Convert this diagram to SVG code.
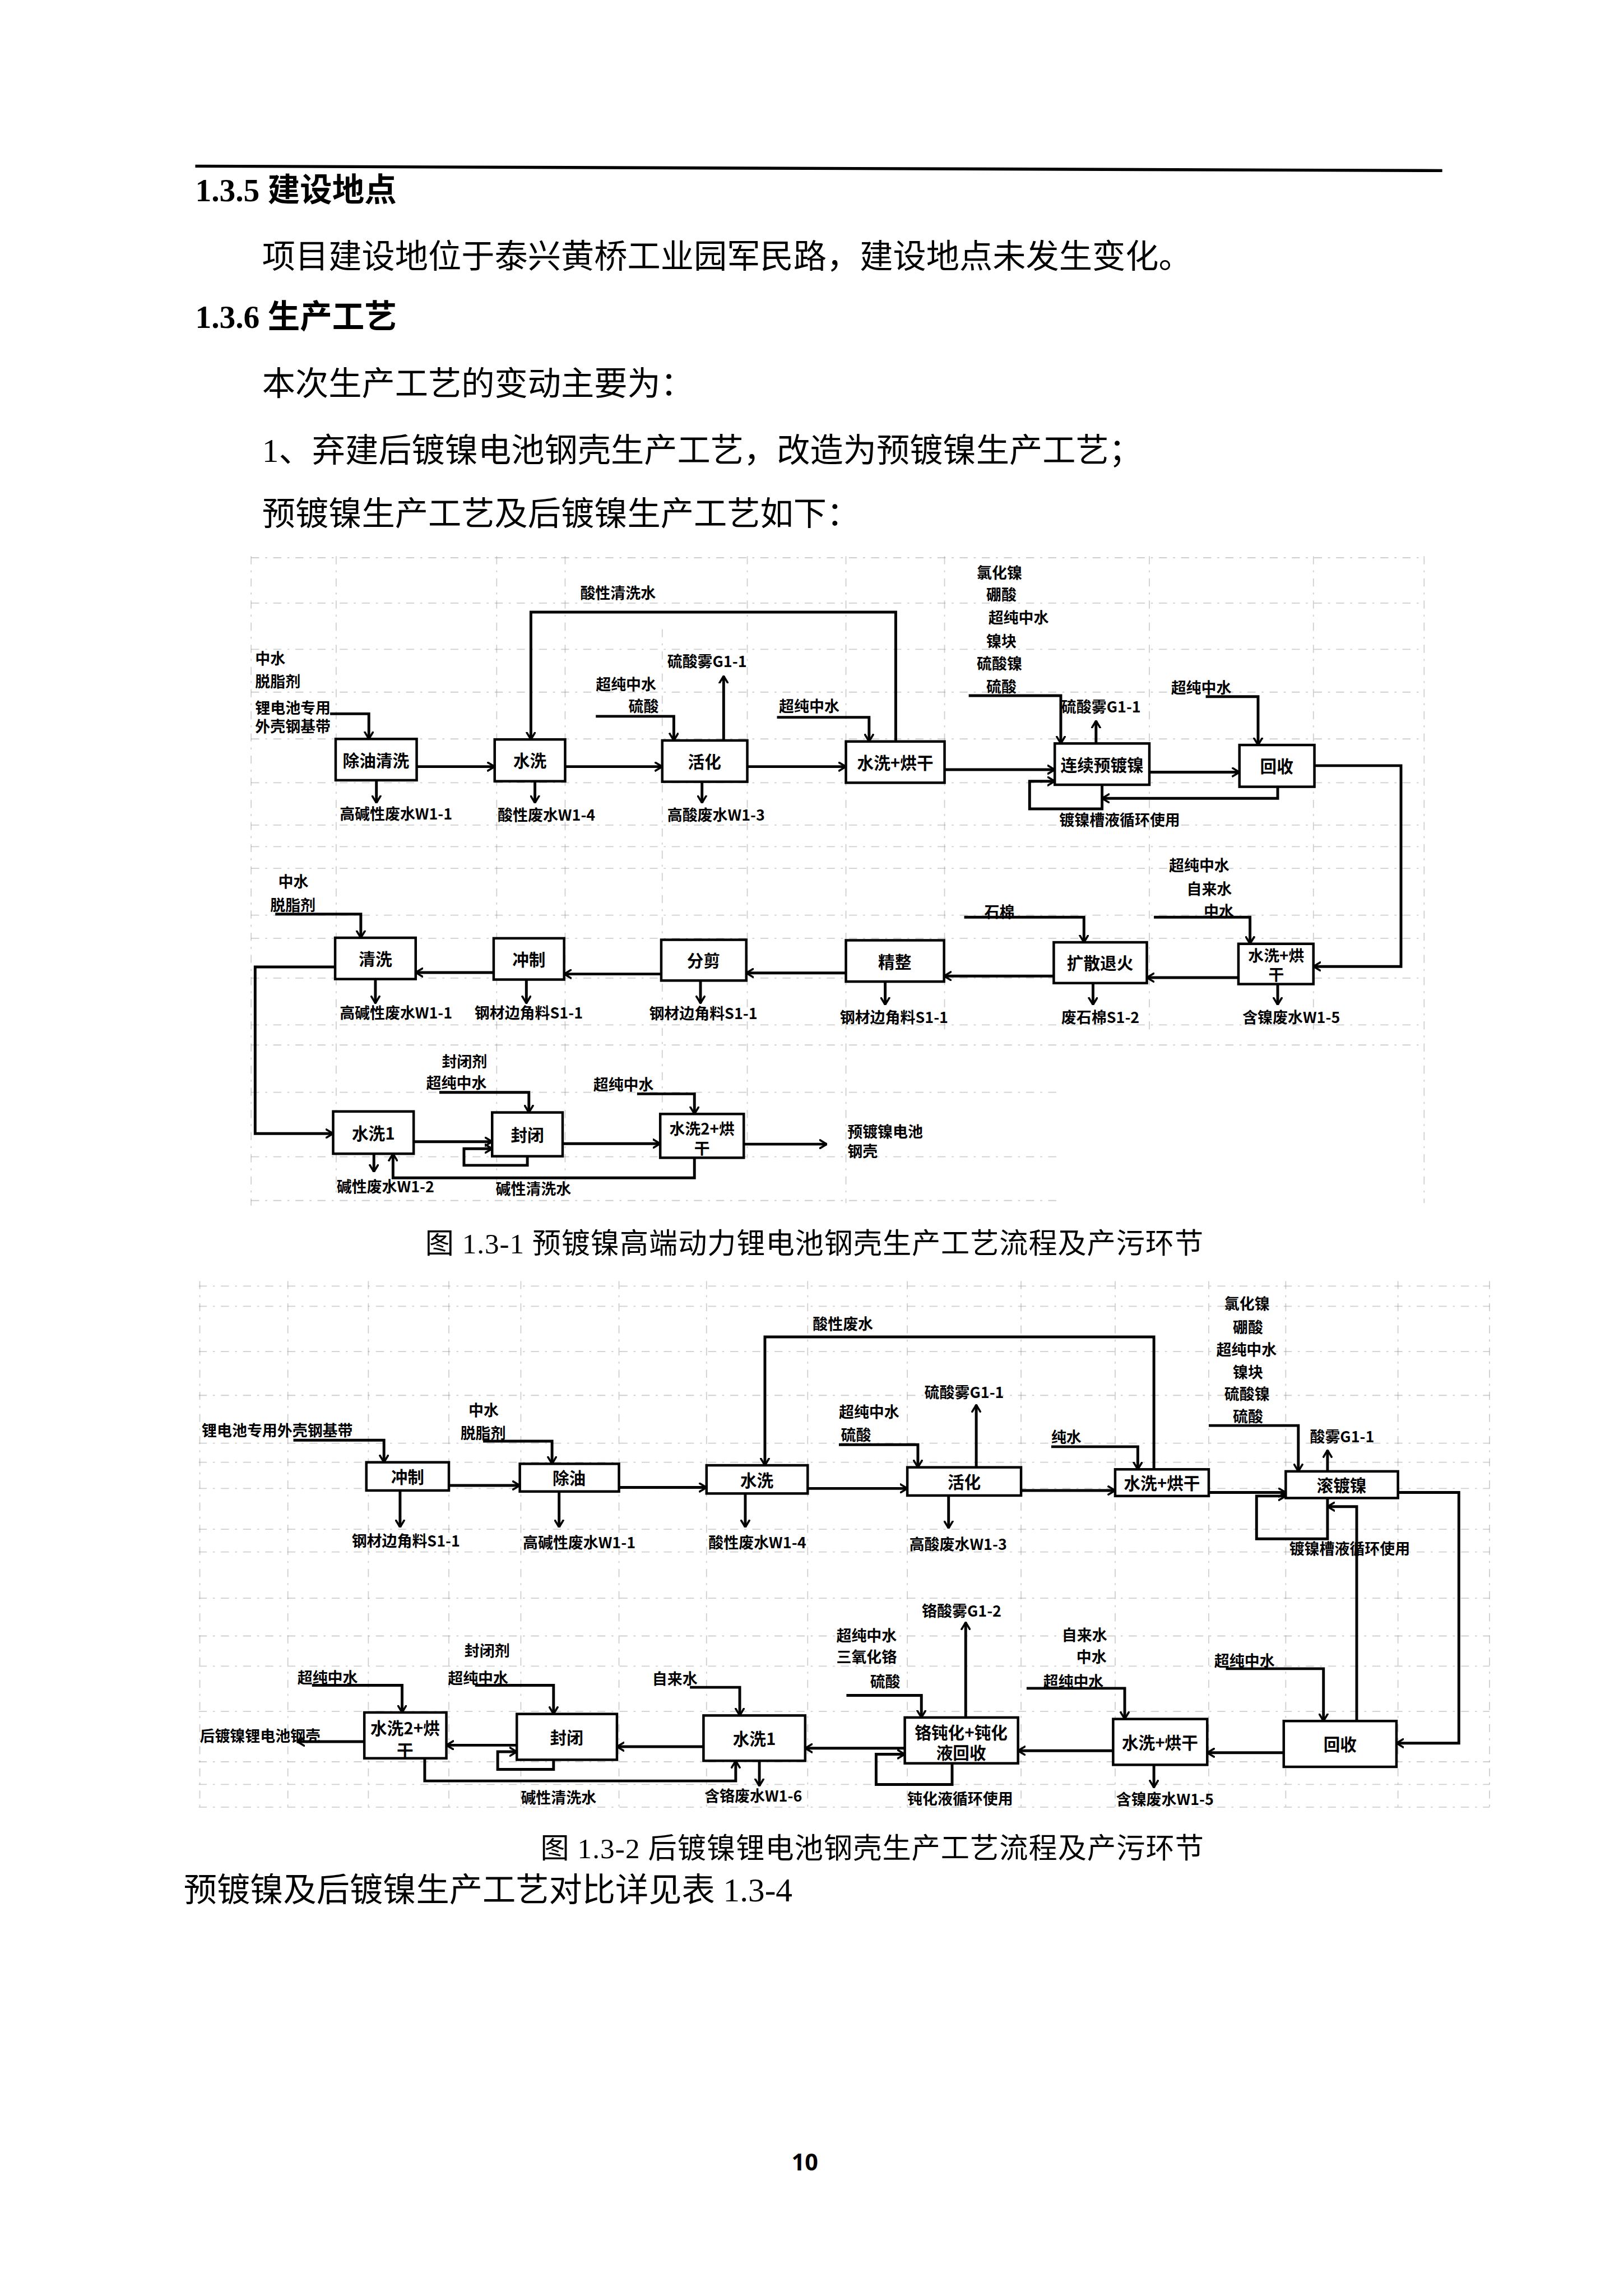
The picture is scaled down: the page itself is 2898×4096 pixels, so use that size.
<svg xmlns="http://www.w3.org/2000/svg" width="2898" height="4096" viewBox="0 0 2898 4096">
<style>
.bx{fill:#fff;stroke:#000;stroke-width:5}
.c{fill:none;stroke:#000;stroke-width:5.5}
.ca{marker-end:url(#a)}
.g{fill:none;stroke:#888;stroke-width:2;stroke-dasharray:16 12 4 12;opacity:.4}
.t{font-family:"Noto Sans CJK SC",sans-serif;font-weight:700;font-size:30px;dominant-baseline:central;fill:#000}
.tb{font-size:33px;text-anchor:middle}
.t2{font-size:31px}
.body{font-family:"Liberation Serif","Noto Sans CJK SC",serif;font-size:66px;fill:#000}
.h{font-weight:700;font-size:64px}
.cap{font-size:57px}
.pn{font-family:"Open Sans","Liberation Sans",sans-serif;font-weight:700;font-size:46px}
</style>
<defs>
<marker id="a" viewBox="0 0 16 20" refX="15" refY="10" markerWidth="16" markerHeight="20" markerUnits="userSpaceOnUse" orient="auto">
<path d="M0,1 L15,10 L0,19" fill="none" stroke="#000" stroke-width="4"/>
</marker>
</defs>
<rect width="2898" height="4096" fill="#fff"/>
<g transform="scale(0.898)">

<g id="page-text">
<line x1="388" y1="330" x2="2866" y2="339" stroke="#000" stroke-width="6"/>
<text class="body h" x="388" y="400">1.3.5 建设地点</text>
<text class="body" x="521" y="532">项目建设地位于泰兴黄桥工业园军民路，建设地点未发生变化。</text>
<text class="body h" x="388" y="652">1.3.6 生产工艺</text>
<text class="body" x="521" y="785">本次生产工艺的变动主要为：</text>
<text class="body" x="521" y="918">1、弃建后镀镍电池钢壳生产工艺，改造为预镀镍生产工艺；</text>
<text class="body" x="521" y="1044">预镀镍生产工艺及后镀镍生产工艺如下：</text>
<text class="body cap" x="845" y="2490" textLength="1546" lengthAdjust="spacing">图 1.3-1 预镀镍高端动力锂电池钢壳生产工艺流程及产污环节</text>
<text class="body cap" x="1074" y="3692" textLength="1318" lengthAdjust="spacing">图 1.3-2 后镀镍锂电池钢壳生产工艺流程及产污环节</text>
<text class="body" x="365" y="3777">预镀镍及后镀镍生产工艺对比详见表 1.3-4</text>
<text class="pn" x="1573" y="4312">10</text>
</g>

<g id="grid">
<path class="g" d="M499,1105V2395 M668,1105V2380 M987,1105V2380 M1123,1105V2380 M1316,1250V2300 M1485,1105V2300 M1681,1105V2390 M1877,1105V2050 M2284,1105V2050 M2610,1105V2050 M2830,1105V2390"/>
<path class="g" d="M499,1108H2830 M499,1198H2830 M499,1290H2830 M499,1375H2830 M499,1468H2830 M499,1555H2830 M499,1639H2830 M499,1682H2830 M499,1725H2830 M499,1818H2830 M499,1864H2830 M499,1943H2830 M499,2036H2830 M499,2076H2830 M499,2170H2100 M499,2298H2100 M499,2385H2100"/>
<path class="g" d="M397,2545V3590 M572,2545V3590 M732,2545V3590 M892,2545V3590 M1035,2545V3590 M1230,2545V3590 M1404,2545V3590 M1605,2545V3590 M1803,2545V3590 M2029,2545V3590 M2216,2545V3590 M2402,2545V3590 M2555,2545V3590 M2778,2545V3590 M2960,2545V3590"/>
<path class="g" d="M395,2555H2960 M395,2595H2960 M395,2685H2960 M395,2772H2960 M395,2867H2960 M395,2905H2960 M395,2957H2960 M395,3038H2960 M395,3083H2960 M395,3175H2960 M395,3250H2960 M395,3310H2960 M395,3400H2960 M395,3500H2960 M395,3545H2960 M395,3590H2960"/>
</g>

<g id="connectors-1">
<path class="c ca" d="M656,1418H733V1468"/>
<path class="c ca" d="M828,1523H983"/>
<path class="c ca" d="M1123,1523H1316"/>
<path class="c ca" d="M1485,1523H1681"/>
<path class="c ca" d="M1780,1473V1216H1055V1469"/>
<path class="c ca" d="M1184,1423H1339V1471"/>
<path class="c ca" d="M1438,1471V1343"/>
<path class="c ca" d="M748,1550V1595"/>
<path class="c ca" d="M1063,1552V1595"/>
<path class="c ca" d="M1395,1553V1595"/>
<path class="c ca" d="M1544,1425H1727V1473"/>
<path class="c ca" d="M1877,1529H2096"/>
<path class="c ca" d="M1925,1382H2108V1477"/>
<path class="c ca" d="M2178,1477V1432"/>
<path class="c ca" d="M2284,1534H2463"/>
<path class="c ca" d="M2396,1384H2500V1480"/>
<path class="c ca" d="M2539,1563V1586H2190"/>
<path class="c ca" d="M2190,1559V1607H2046V1552H2096"/>
<path class="c ca" d="M2612,1521H2784V1920H2610"/>
<path class="c ca" d="M2293,1822H2484V1875"/>
<path class="c ca" d="M2461,1942H2279"/>
<path class="c ca" d="M1916,1822H2154V1872"/>
<path class="c ca" d="M2172,1953V1996"/>
<path class="c ca" d="M2539,1955V1996"/>
<path class="c ca" d="M2094,1939H1876"/>
<path class="c ca" d="M1759,1950V1996"/>
<path class="c ca" d="M1681,1933H1483"/>
<path class="c ca" d="M1392,1948V1993"/>
<path class="c ca" d="M1314,1935H1121"/>
<path class="c ca" d="M1046,1946V1993"/>
<path class="c ca" d="M981,1932H826"/>
<path class="c ca" d="M746,1945V1993"/>
<path class="c ca" d="M547,1816H717V1863"/>
<path class="c ca" d="M666,1921H507V2252H662"/>
<path class="c ca" d="M822,2268H978"/>
<path class="c ca" d="M873,2170H1051V2210"/>
<path class="c ca" d="M1048,2297V2315H922V2282H978"/>
<path class="c ca" d="M1118,2272H1312"/>
<path class="c ca" d="M1266,2173H1380V2213"/>
<path class="c ca" d="M1478,2273H1643"/>
<path class="c ca" d="M1380,2300V2340H781V2292"/>
<path class="c ca" d="M743,2292V2328"/>
</g>

<g id="nodes-1">
<g id="n1-chuyou"><rect class="bx" x="667" y="1468" width="161" height="82"/><text class="t tb" x="747" y="1509">除油清洗</text></g>
<g id="n1-shuixi"><rect class="bx" x="983" y="1469" width="140" height="83"/><text class="t tb" x="1053" y="1510">水洗</text></g>
<g id="n1-huohua"><rect class="bx" x="1316" y="1471" width="169" height="82"/><text class="t tb" x="1400" y="1512">活化</text></g>
<g id="n1-shuixihonggan"><rect class="bx" x="1681" y="1473" width="196" height="82"/><text class="t tb" x="1779" y="1514">水洗+烘干</text></g>
<g id="n1-yudu"><rect class="bx" x="2096" y="1477" width="188" height="82"/><text class="t tb" x="2190" y="1518">连续预镀镍</text></g>
<g id="n1-huishou"><rect class="bx" x="2463" y="1480" width="149" height="83"/><text class="t tb" x="2537" y="1521">回收</text></g>
<g id="n1-shuixihonggan2"><rect class="bx" x="2461" y="1875" width="149" height="80"/><text class="t tb t2" x="2536" y="1896">水洗+烘<tspan x="2536" dy="38">干</tspan></text></g>
<g id="n1-kuosan"><rect class="bx" x="2094" y="1872" width="185" height="81"/><text class="t tb" x="2186" y="1912">扩散退火</text></g>
<g id="n1-jingzheng"><rect class="bx" x="1681" y="1868" width="195" height="82"/><text class="t tb" x="1778" y="1909">精整</text></g>
<g id="n1-fenjian"><rect class="bx" x="1314" y="1867" width="169" height="81"/><text class="t tb" x="1398" y="1907">分剪</text></g>
<g id="n1-chongzhi"><rect class="bx" x="981" y="1864" width="140" height="82"/><text class="t tb" x="1051" y="1905">冲制</text></g>
<g id="n1-qingxi"><rect class="bx" x="666" y="1863" width="160" height="82"/><text class="t tb" x="746" y="1904">清洗</text></g>
<g id="n1-shuixi1"><rect class="bx" x="662" y="2208" width="160" height="84"/><text class="t tb" x="742" y="2250">水洗1</text></g>
<g id="n1-fengbi"><rect class="bx" x="978" y="2210" width="140" height="87"/><text class="t tb" x="1048" y="2253">封闭</text></g>
<g id="n1-shuixi2"><rect class="bx" x="1312" y="2213" width="166" height="87"/><text class="t tb t2" x="1395" y="2240">水洗2+烘<tspan x="1395" dy="39">干</tspan></text></g>
</g>

<g id="labels-1">
<text class="t" x="507" y="1307">中水</text>
<text class="t" x="507" y="1352">脱脂剂</text>
<text class="t" x="507" y="1405">锂电池专用</text>
<text class="t" x="507" y="1442">外壳钢基带</text>
<text class="t" x="1153" y="1176">酸性清洗水</text>
<text class="t" x="1326" y="1312">硫酸雾G1-1</text>
<text class="t" x="1184" y="1358">超纯中水</text>
<text class="t" x="1249" y="1402">硫酸</text>
<text class="t" x="1548" y="1402">超纯中水</text>
<text class="t" x="675" y="1615">高碱性废水W1-1</text>
<text class="t" x="989" y="1617">酸性废水W1-4</text>
<text class="t" x="1326" y="1617">高酸废水W1-3</text>
<text class="t" x="1941" y="1136">氯化镍</text>
<text class="t" x="1960" y="1180">硼酸</text>
<text class="t" x="1964" y="1225">超纯中水</text>
<text class="t" x="1960" y="1272">镍块</text>
<text class="t" x="1941" y="1317">硫酸镍</text>
<text class="t" x="1960" y="1362">硫酸</text>
<text class="t" x="2109" y="1403">硫酸雾G1-1</text>
<text class="t" x="2327" y="1365">超纯中水</text>
<text class="t" x="2105" y="1628">镀镍槽液循环使用</text>
<text class="t" x="2323" y="1718">超纯中水</text>
<text class="t" x="2358" y="1765">自来水</text>
<text class="t" x="2392" y="1809">中水</text>
<text class="t" x="1956" y="1810">石棉</text>
<text class="t" x="2109" y="2019">废石棉S1-2</text>
<text class="t" x="2469" y="2019">含镍废水W1-5</text>
<text class="t" x="1669" y="2019">钢材边角料S1-1</text>
<text class="t" x="1290" y="2012">钢材边角料S1-1</text>
<text class="t" x="943" y="2011">钢材边角料S1-1</text>
<text class="t" x="675" y="2011">高碱性废水W1-1</text>
<text class="t" x="553" y="1750">中水</text>
<text class="t" x="537" y="1797">脱脂剂</text>
<text class="t" x="878" y="2108">封闭剂</text>
<text class="t" x="847" y="2150">超纯中水</text>
<text class="t" x="1179" y="2153">超纯中水</text>
<text class="t" x="1684" y="2247">预镀镍电池<tspan x="1684" dy="38">钢壳</tspan></text>
<text class="t" x="669" y="2356">碱性废水W1-2</text>
<text class="t" x="985" y="2360">碱性清洗水</text>
</g>

<g id="connectors-2">
<path class="c ca" d="M583,2861H763V2905"/>
<path class="c ca" d="M892,2951H1033"/>
<path class="c ca" d="M960,2863H1097V2908"/>
<path class="c ca" d="M1230,2955H1404"/>
<path class="c ca" d="M2293,2919V2656H1520V2911"/>
<path class="c ca" d="M1605,2957H1803"/>
<path class="c ca" d="M1667,2870H1824V2915"/>
<path class="c ca" d="M1940,2915V2791"/>
<path class="c ca" d="M1885,2971V3036"/>
<path class="c ca" d="M795,2961V3034"/>
<path class="c ca" d="M1111,2963V3034"/>
<path class="c ca" d="M1481,2967V3034"/>
<path class="c ca" d="M2029,2961H2216"/>
<path class="c ca" d="M2089,2874H2261V2919"/>
<path class="c ca" d="M2402,2965H2555"/>
<path class="c ca" d="M2402,2832H2580V2923"/>
<path class="c ca" d="M2638,2923V2881"/>
<path class="c ca" d="M2778,2965H2899V3463H2775"/>
<path class="c ca" d="M2638,2976V3057H2497V2972H2555"/>
<path class="c ca" d="M2696,3419V2993H2638"/>
<path class="c ca" d="M2436,3315H2630V3419"/>
<path class="c ca" d="M2551,3482H2399"/>
<path class="c ca" d="M2040,3354H2235V3415"/>
<path class="c ca" d="M2293,3506V3551"/>
<path class="c ca" d="M2212,3478H2023"/>
<path class="c ca" d="M1919,3412V3223"/>
<path class="c ca" d="M1682,3368H1831V3412"/>
<path class="c ca" d="M1892,3503V3545H1741V3485H1798"/>
<path class="c ca" d="M1798,3473H1600"/>
<path class="c ca" d="M1371,3352H1470V3408"/>
<path class="c ca" d="M1398,3470H1226"/>
<path class="c ca" d="M1509,3498V3548"/>
<path class="c ca" d="M944,3348H1100V3405"/>
<path class="c ca" d="M1027,3467H887"/>
<path class="c ca" d="M1100,3496V3515H989V3480H1027"/>
<path class="c ca" d="M620,3348H799V3402"/>
<path class="c ca" d="M724,3460H591"/>
<path class="c ca" d="M844,3493V3538H1462V3498"/>
</g>

<g id="nodes-2">
<g id="n2-chongzhi"><rect class="bx" x="728" y="2905" width="164" height="56"/><text class="t tb" x="810" y="2933">冲制</text></g>
<g id="n2-chuyou"><rect class="bx" x="1033" y="2908" width="197" height="55"/><text class="t tb" x="1131" y="2935">除油</text></g>
<g id="n2-shuixi"><rect class="bx" x="1404" y="2911" width="201" height="56"/><text class="t tb" x="1504" y="2939">水洗</text></g>
<g id="n2-huohua"><rect class="bx" x="1803" y="2915" width="226" height="56"/><text class="t tb" x="1916" y="2943">活化</text></g>
<g id="n2-shuixihonggan"><rect class="bx" x="2216" y="2919" width="186" height="53"/><text class="t tb" x="2309" y="2945">水洗+烘干</text></g>
<g id="n2-gundu"><rect class="bx" x="2555" y="2923" width="223" height="53"/><text class="t tb" x="2666" y="2949">滚镀镍</text></g>
<g id="n2-huishou"><rect class="bx" x="2551" y="3419" width="224" height="91"/><text class="t tb" x="2663" y="3464">回收</text></g>
<g id="n2-shuixihonggan2"><rect class="bx" x="2212" y="3415" width="187" height="91"/><text class="t tb" x="2305" y="3460">水洗+烘干</text></g>
<g id="n2-gedunhua"><rect class="bx" x="1798" y="3412" width="225" height="91"/><text class="t tb" x="1910" y="3440">铬钝化+钝化<tspan x="1910" dy="40">液回收</tspan></text></g>
<g id="n2-shuixi1"><rect class="bx" x="1398" y="3408" width="202" height="90"/><text class="t tb" x="1499" y="3453">水洗1</text></g>
<g id="n2-fengbi"><rect class="bx" x="1027" y="3405" width="199" height="91"/><text class="t tb" x="1126" y="3450">封闭</text></g>
<g id="n2-shuixi2"><rect class="bx" x="724" y="3402" width="163" height="91"/><text class="t tb" x="805" y="3432">水洗2+烘<tspan x="805" dy="44">干</tspan></text></g>
</g>

<g id="labels-2">
<text class="t" x="1615" y="2629">酸性废水</text>
<text class="t" x="401" y="2840">锂电池专用外壳钢基带</text>
<text class="t" x="931" y="2800">中水</text>
<text class="t" x="915" y="2846">脱脂剂</text>
<text class="t" x="699" y="3060">钢材边角料S1-1</text>
<text class="t" x="1039" y="3063">高碱性废水W1-1</text>
<text class="t" x="1408" y="3063">酸性废水W1-4</text>
<text class="t" x="1837" y="2765">硫酸雾G1-1</text>
<text class="t" x="1667" y="2804">超纯中水</text>
<text class="t" x="1671" y="2849">硫酸</text>
<text class="t" x="1807" y="3066">高酸废水W1-3</text>
<text class="t" x="2089" y="2854">纯水</text>
<text class="t" x="2433" y="2589">氯化镍</text>
<text class="t" x="2450" y="2635">硼酸</text>
<text class="t" x="2417" y="2680">超纯中水</text>
<text class="t" x="2450" y="2724">镍块</text>
<text class="t" x="2433" y="2768">硫酸镍</text>
<text class="t" x="2450" y="2812">硫酸</text>
<text class="t" x="2603" y="2853">酸雾G1-1</text>
<text class="t" x="2562" y="3075">镀镍槽液循环使用</text>
<text class="t" x="1832" y="3199">铬酸雾G1-2</text>
<text class="t" x="1662" y="3248">超纯中水</text>
<text class="t" x="1662" y="3290">三氧化铬</text>
<text class="t" x="1729" y="3339">硫酸</text>
<text class="t" x="2110" y="3247">自来水</text>
<text class="t" x="2139" y="3290">中水</text>
<text class="t" x="2073" y="3339">超纯中水</text>
<text class="t" x="2413" y="3298">超纯中水</text>
<text class="t" x="2218" y="3573">含镍废水W1-5</text>
<text class="t" x="1803" y="3572">钝化液循环使用</text>
<text class="t" x="1296" y="3334">自来水</text>
<text class="t" x="923" y="3278">封闭剂</text>
<text class="t" x="890" y="3332">超纯中水</text>
<text class="t" x="591" y="3331">超纯中水</text>
<text class="t" x="397" y="3447">后镀镍锂电池钢壳</text>
<text class="t" x="1035" y="3570">碱性清洗水</text>
<text class="t" x="1400" y="3566">含铬废水W1-6</text>
</g>

</g>
</svg>
